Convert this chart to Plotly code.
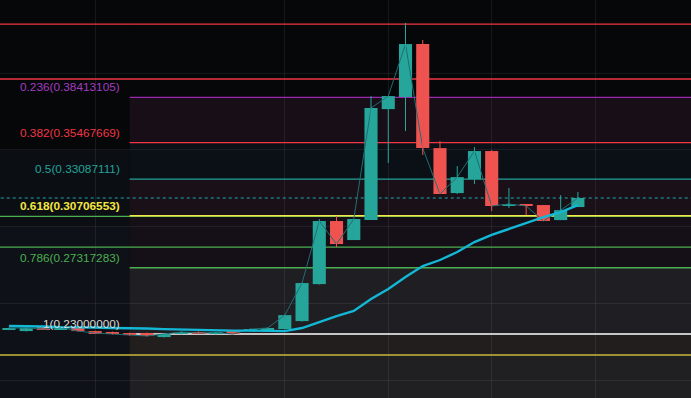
import plotly.graph_objects as go

# ---------------- data ----------------
IDX = list(range(34))
OPEN = [0.2332, 0.2319, 0.2345, 0.2332, 0.2339, 0.2319, 0.2313, 0.2306, 0.2306, 0.2280,
        0.2300, 0.2313, 0.2300, 0.2319, 0.2319, 0.2319, 0.2332, 0.2384, 0.2625, 0.3036,
        0.2912, 0.3042, 0.3765, 0.3844, 0.4189, 0.3511, 0.3218, 0.3309, 0.3492, 0.3134,
        0.3147, 0.3140, 0.3042, 0.3127]
HIGH = [0.2342, 0.2342, 0.2348, 0.2345, 0.2342, 0.2322, 0.2316, 0.2309, 0.2309, 0.2303,
        0.2316, 0.2316, 0.2313, 0.2322, 0.2335, 0.2342, 0.2426, 0.2635, 0.3049, 0.3068,
        0.3049, 0.3850, 0.3850, 0.4326, 0.4215, 0.3557, 0.3394, 0.3518, 0.3498, 0.3251,
        0.3147, 0.3140, 0.3205, 0.3225]
LOW = [0.2329, 0.2316, 0.2329, 0.2329, 0.2316, 0.2303, 0.2297, 0.2290, 0.2284, 0.2277,
       0.2297, 0.2303, 0.2297, 0.2297, 0.2316, 0.2316, 0.2329, 0.2381, 0.2622, 0.2866,
       0.2912, 0.3042, 0.3414, 0.3622, 0.3466, 0.3212, 0.3212, 0.3277, 0.3101, 0.3121,
       0.3075, 0.3036, 0.3042, 0.3127]
CLOSE = [0.2339, 0.2339, 0.2332, 0.2342, 0.2319, 0.2306, 0.2300, 0.2293, 0.2287, 0.2300,
         0.2313, 0.2306, 0.2309, 0.2300, 0.2332, 0.2339, 0.2423, 0.2632, 0.3036, 0.2886,
         0.3049, 0.3772, 0.3850, 0.4189, 0.3511, 0.3212, 0.3322, 0.3492, 0.3134, 0.3147,
         0.3134, 0.3036, 0.3107, 0.3186]
MA = [0.2352, 0.2352, 0.2349, 0.2345, 0.2345, 0.2342, 0.2339, 0.2339, 0.2336, 0.2332,
      0.2329, 0.2326, 0.2326, 0.2322, 0.2322, 0.2319, 0.2319, 0.2339, 0.2378, 0.2417,
      0.2450, 0.2528, 0.2593, 0.2671, 0.2743, 0.2782, 0.2834, 0.2899, 0.2945, 0.2984,
      0.3023, 0.3062, 0.3094, 0.3140]

FIB_LABELS = ["0.236", "0.382", "0.5", "0.618", "0.786", "1"]
FIB_PRICES = [0.38413105, 0.35467669, 0.33087111, 0.30706553, 0.27317283, 0.23000000]
FIB_COLORS = ["#9c27b0", "#f23645", "#22a39a", "#f2e649", "#4caf50", "#ffffff"]
FIB_LABEL_COLORS = ["#a33cc0", "#f23645", "#22a39a", "#f5e642", "#4caf50", "#d8d8d8"]
FIB_LABEL_BOLD = [False, False, False, True, False, False]
FIB_FILLS = ["#170e17", "#0b1016", "#1a1118", "#150f18", "#1f1e23"]
FIB_START = 7

H_LINES = [0.4319, 0.3961, 0.3066, 0.2866, 0.2163]
H_COLORS = ["#f23645", "#f23645", "#4caf50", "#4caf50", "#c9b83c"]

X_GRID = [5, 16, 22, 28, 34]
Y_GRID = [0.20, 0.25, 0.30, 0.35, 0.40]
X_RANGE = [-0.52, 39.56]
Y_RANGE = [0.1883, 0.4476]

UP = "#26a69a"
DOWN = "#ef5350"

# ---------------- figure ----------------
fig = go.Figure()
XL, XR = X_RANGE[0] - 1, X_RANGE[1] + 1

shapes = []
for y0, y1, col in [(0.35, Y_RANGE[1] + 0.01, "#060709"), (0.30, 0.35, "#0b0e13"),
                    (Y_RANGE[0] - 0.01, 0.30, "#0e1117")]:
    shapes.append(dict(type="rect", xref="x", yref="y", x0=XL, x1=FIB_START,
                       y0=y0, y1=y1, fillcolor=col, line=dict(width=0), layer="below"))
for i, col in enumerate(FIB_FILLS):
    shapes.append(dict(type="rect", xref="x", yref="y", x0=FIB_START, x1=XR,
                       y0=FIB_PRICES[i + 1], y1=FIB_PRICES[i], fillcolor=col,
                       line=dict(width=0), layer="below"))
shapes.append(dict(type="rect", xref="x", yref="y", x0=FIB_START, x1=XR,
                   y0=H_LINES[4], y1=FIB_PRICES[5], fillcolor="#221e1d",
                   line=dict(width=0), layer="below"))
shapes.append(dict(type="rect", xref="x", yref="y", x0=FIB_START, x1=XR,
                   y0=Y_RANGE[0] - 0.01, y1=H_LINES[4], fillcolor="#202022",
                   line=dict(width=0), layer="below"))

for p, col in zip(H_LINES, H_COLORS):
    shapes.append(dict(type="line", xref="x", yref="y", x0=XL, x1=XR, y0=p, y1=p,
                       line=dict(color=col, width=1.4), layer="between"))
for p, col in zip(FIB_PRICES, FIB_COLORS):
    shapes.append(dict(type="line", xref="x", yref="y", x0=FIB_START, x1=XR,
                       y0=p, y1=p, line=dict(color=col, width=1.4), layer="between"))
shapes.append(dict(type="line", xref="x", yref="y", x0=XL, x1=XR, y0=CLOSE[-1], y1=CLOSE[-1],
                   line=dict(color="#1fa8b0", width=1, dash="dot"), layer="between"))

# close line
fig.add_trace(go.Scatter(x=IDX, y=CLOSE, mode="lines",
                         line=dict(color="#1f6e73", width=1), hoverinfo="skip"))

# candle wicks and bodies
MIN_BODY = 0.0007
for up, col in [(True, UP), (False, DOWN)]:
    sel = [i for i in IDX if (CLOSE[i] >= OPEN[i]) == up]
    wx, wy = [], []
    for i in sel:
        wx += [i, i, None]
        wy += [LOW[i], HIGH[i], None]
    fig.add_trace(go.Scatter(x=wx, y=wy, mode="lines", line=dict(color=col, width=1),
                             hoverinfo="skip"))
    fig.add_trace(go.Bar(x=sel,
                         base=[min(OPEN[i], CLOSE[i]) for i in sel],
                         y=[max(abs(CLOSE[i] - OPEN[i]), MIN_BODY) for i in sel],
                         width=0.76, marker=dict(color=col, line=dict(width=0)),
                         hoverinfo="skip"))

# moving average
fig.add_trace(go.Scatter(x=IDX, y=MA, mode="lines",
                         line=dict(color="#12b8d6", width=2.4), hoverinfo="skip"))

annotations = []
for lab, p, col, bold in zip(FIB_LABELS, FIB_PRICES, FIB_LABEL_COLORS, FIB_LABEL_BOLD):
    txt = f"{lab}({p:.8f})"
    if bold:
        txt = f"<b>{txt}</b>"
    annotations.append(dict(x=FIB_START - 0.45, y=p, xref="x", yref="y",
                            text=txt, showarrow=False,
                            xanchor="right", yanchor="middle", yshift=10,
                            font=dict(family="Liberation Sans, Arial, sans-serif",
                                      size=11.8, color=col)))

fig.update_layout(
    width=691, height=398,
    margin=dict(l=0, r=0, t=0, b=0),
    paper_bgcolor="#060709", plot_bgcolor="#060709",
    showlegend=False, barmode="overlay",
    shapes=shapes, annotations=annotations,
    xaxis=dict(range=X_RANGE, tickvals=X_GRID, showticklabels=False, showgrid=True,
               gridcolor="rgba(255,255,255,0.07)", zeroline=False,
               fixedrange=True, showline=False),
    yaxis=dict(range=Y_RANGE, tickvals=Y_GRID, showticklabels=False, showgrid=True,
               gridcolor="rgba(255,255,255,0.07)", zeroline=False, fixedrange=True, showline=False),
)

fig.write_html("out.html", config={"displayModeBar": False},
               post_script="document.body.style.margin='0';document.body.style.background='#060709';")
